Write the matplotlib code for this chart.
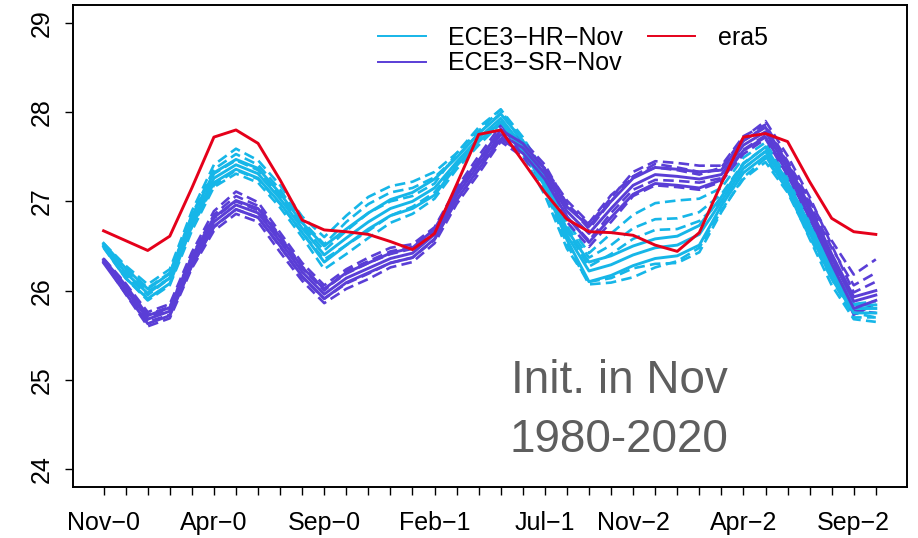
import numpy as np
import matplotlib
matplotlib.use('Agg')
import matplotlib.pyplot as plt
from matplotlib.lines import Line2D

plt.rcParams['font.family'] = ['Liberation Sans', 'DejaVu Sans']

# monthly SST climatology, lead months Nov-0 .. Oct-2
era5 = [26.67, 26.56, 26.45, 26.61, 27.15, 27.72, 27.80, 27.65, 27.24, 26.79, 26.68, 26.66,
        26.63, 26.55, 26.46, 26.64, 27.19, 27.75, 27.80, 27.45, 27.10, 26.80, 26.66, 26.65,
        26.62, 26.51, 26.44, 26.65, 27.20, 27.72, 27.76, 27.67, 27.22, 26.81, 26.66, 26.63]

# ECE3-HR-Nov : solid lines
hr_mean = [26.51, 26.20, 25.97, 26.14, 26.77, 27.26, 27.41, 27.31, 27.03, 26.70, 26.40, 26.59,
           26.77, 26.92, 27.00, 27.15, 27.44, 27.71, 27.93, 27.62, 27.22, 26.62, 26.22, 26.29,
           26.40, 26.48, 26.51, 26.63, 27.00, 27.37, 27.56, 27.18, 26.70, 26.21, 25.80, 25.80]
hr_s2 = [26.53, 26.25, 26.02, 26.19, 26.83, 27.32, 27.47, 27.37, 27.09, 26.76, 26.50, 26.69,
         26.87, 27.02, 27.10, 27.25, 27.49, 27.76, 27.98, 27.68, 27.28, 26.68, 26.32, 26.39,
         26.50, 26.58, 26.61, 26.73, 27.05, 27.42, 27.61, 27.22, 26.74, 26.25, 25.84, 25.84]
hr_s3 = [26.49, 26.14, 25.91, 26.08, 26.72, 27.21, 27.36, 27.26, 26.98, 26.65, 26.32, 26.51,
         26.69, 26.84, 26.92, 27.07, 27.40, 27.67, 27.89, 27.57, 27.17, 26.57, 26.10, 26.17,
         26.28, 26.36, 26.39, 26.51, 26.95, 27.32, 27.51, 27.13, 26.65, 26.16, 25.75, 25.75]
# ECE3-HR-Nov : dashed lines
hr_d1 = [26.53, 26.28, 26.07, 26.24, 26.89, 27.41, 27.59, 27.46, 27.18, 26.83, 26.60, 26.84,
         27.05, 27.17, 27.22, 27.33, 27.54, 27.79, 28.03, 27.72, 27.32, 26.77, 26.42, 26.64,
         26.85, 26.98, 27.01, 27.03, 27.15, 27.49, 27.66, 27.26, 26.78, 26.27, 25.85, 25.82]
hr_d2 = [26.51, 26.25, 26.03, 26.20, 26.85, 27.36, 27.53, 27.41, 27.13, 26.78, 26.52, 26.77,
         26.97, 27.10, 27.15, 27.27, 27.50, 27.76, 27.99, 27.70, 27.30, 26.72, 26.37, 26.51,
         26.70, 26.80, 26.81, 26.88, 27.08, 27.43, 27.61, 27.18, 26.65, 26.13, 25.70, 25.70]
hr_d3 = [26.48, 26.14, 25.89, 26.06, 26.67, 27.16, 27.31, 27.21, 26.93, 26.60, 26.24, 26.41,
         26.59, 26.76, 26.86, 27.03, 27.36, 27.63, 27.87, 27.52, 27.07, 26.47, 26.10, 26.14,
         26.25, 26.30, 26.31, 26.43, 26.88, 27.27, 27.48, 27.13, 26.58, 26.06, 25.68, 25.65]
hr_d4 = [26.52, 26.17, 25.95, 26.14, 26.80, 27.31, 27.46, 27.35, 27.06, 26.73, 26.45, 26.67,
         26.87, 27.00, 27.06, 27.20, 27.54, 27.83, 28.03, 27.64, 27.22, 26.67, 26.27, 26.41,
         26.58, 26.68, 26.69, 26.78, 27.00, 27.37, 27.56, 27.16, 26.68, 26.21, 25.85, 25.88]
hr_d5 = [26.50, 26.23, 25.99, 26.14, 26.71, 27.18, 27.35, 27.25, 26.97, 26.65, 26.35, 26.51,
         26.67, 26.84, 26.94, 27.10, 27.42, 27.69, 27.89, 27.54, 27.14, 26.52, 26.07, 26.09,
         26.15, 26.26, 26.33, 26.48, 26.90, 27.25, 27.44, 27.10, 26.60, 26.13, 25.75, 25.70]

# ECE3-SR-Nov : solid lines
sr_mean = [26.33, 26.02, 25.68, 25.77, 26.33, 26.77, 26.96, 26.87, 26.55, 26.21, 25.96, 26.14,
           26.25, 26.36, 26.42, 26.63, 27.07, 27.41, 27.75, 27.60, 27.31, 26.89, 26.64, 26.92,
           27.18, 27.30, 27.28, 27.25, 27.30, 27.63, 27.78, 27.37, 26.89, 26.36, 25.88, 25.95]
sr_s2 = [26.35, 26.06, 25.72, 25.81, 26.38, 26.82, 27.01, 26.92, 26.60, 26.26, 26.02, 26.20,
         26.31, 26.42, 26.48, 26.69, 27.12, 27.46, 27.80, 27.65, 27.36, 26.94, 26.72, 27.00,
         27.26, 27.38, 27.36, 27.33, 27.35, 27.68, 27.83, 27.42, 26.94, 26.41, 25.93, 26.00]
sr_s3 = [26.31, 25.97, 25.63, 25.72, 26.28, 26.72, 26.91, 26.82, 26.50, 26.16, 25.91, 26.09,
         26.20, 26.31, 26.37, 26.58, 27.02, 27.36, 27.70, 27.54, 27.25, 26.83, 26.54, 26.82,
         27.08, 27.20, 27.18, 27.15, 27.24, 27.57, 27.72, 27.32, 26.83, 26.30, 25.80, 25.89]
# ECE3-SR-Nov : dashed lines
sr_d1 = [26.36, 26.08, 25.76, 25.85, 26.43, 26.89, 27.11, 26.99, 26.65, 26.31, 26.06, 26.24,
         26.37, 26.48, 26.52, 26.71, 27.15, 27.51, 27.85, 27.66, 27.36, 26.97, 26.74, 27.04,
         27.33, 27.45, 27.43, 27.40, 27.40, 27.73, 27.86, 27.45, 27.01, 26.56, 26.18, 26.35]
sr_d2 = [26.33, 25.96, 25.60, 25.69, 26.25, 26.67, 26.86, 26.77, 26.43, 26.11, 25.86, 26.02,
         26.13, 26.26, 26.32, 26.53, 26.97, 27.31, 27.67, 27.50, 27.21, 26.77, 26.49, 26.77,
         27.06, 27.18, 27.16, 27.13, 27.22, 27.53, 27.70, 27.29, 26.81, 26.26, 25.73, 25.85]
sr_d3 = [26.34, 26.05, 25.73, 25.82, 26.39, 26.85, 27.06, 26.95, 26.61, 26.27, 26.02, 26.19,
         26.31, 26.41, 26.47, 26.67, 27.10, 27.46, 27.81, 27.68, 27.41, 26.97, 26.69, 27.00,
         27.28, 27.42, 27.38, 27.33, 27.35, 27.68, 27.84, 27.43, 26.97, 26.48, 26.06, 26.20]
sr_d4 = [26.32, 26.00, 25.65, 25.73, 26.28, 26.71, 26.91, 26.82, 26.49, 26.15, 25.91, 26.08,
         26.19, 26.31, 26.37, 26.57, 27.01, 27.36, 27.72, 27.57, 27.27, 26.83, 26.56, 26.87,
         27.13, 27.24, 27.23, 27.21, 27.26, 27.58, 27.74, 27.34, 26.85, 26.32, 25.78, 25.75]
sr_d5 = [26.35, 26.07, 25.70, 25.80, 26.36, 26.81, 27.00, 26.90, 26.59, 26.25, 26.00, 26.22,
         26.33, 26.44, 26.49, 26.69, 27.12, 27.43, 27.79, 27.64, 27.37, 27.01, 26.76, 27.07,
         27.28, 27.38, 27.35, 27.30, 27.38, 27.71, 27.90, 27.51, 27.05, 26.51, 25.98, 26.10]

months = ['Nov', 'Dec', 'Jan', 'Feb', 'Mar', 'Apr', 'May', 'Jun', 'Jul', 'Aug', 'Sep', 'Oct']
shown = [0, 5, 10, 15, 20, 24, 29, 34]   # labels R managed to fit
yticks = [24, 25, 26, 27, 28, 29]

c_hr = '#16B6E8'
c_sr = '#5A3ED6'
c_era = '#E5001A'

fig = plt.figure(figsize=(9.18, 5.38), dpi=100)
ax = fig.add_axes([0.0792, 0.0948, 0.9085, 0.8959])
x = np.arange(len(era5))
dash = (0, (4, 2))

for m in [hr_d1, hr_d2, hr_d3, hr_d4, hr_d5]:
    ax.plot(x, m, color=c_hr, lw=1.9, ls=dash)
for m in [sr_d1, sr_d2, sr_d3, sr_d4, sr_d5]:
    ax.plot(x, m, color=c_sr, lw=1.9, ls=dash)
for m in [hr_s2, hr_s3, hr_mean]:
    ax.plot(x, m, color=c_hr, lw=2.1)
for m in [sr_s2, sr_s3, sr_mean]:
    ax.plot(x, m, color=c_sr, lw=2.1)
ax.plot(x, era5, color=c_era, lw=2.1)

ax.set_xlim(-1.4, 36.4)
ax.set_ylim(23.8, 29.2)

labels = [months[i % 12] + '\u2212' + str(i // 12) for i in x]
ax.set_xticks(x)
ax.set_xticklabels([labels[i] if i in shown else '' for i in x])
ax.set_yticks(yticks)
ax.set_yticklabels([str(v) for v in yticks], rotation=90, va='center')
ax.tick_params(axis='both', length=6, width=1.0, labelsize=18, direction='out')
ax.tick_params(axis='x', pad=11)
ax.tick_params(axis='y', pad=8)
for s in ax.spines.values():
    s.set_linewidth(1.4)

handles = [Line2D([], [], color=c_hr, lw=1.4),
           Line2D([], [], color=c_sr, lw=1.4),
           Line2D([], [], color=c_era, lw=1.4)]
fig.legend(handles, ['ECE3\u2212HR\u2212Nov', 'ECE3\u2212SR\u2212Nov', 'era5'],
           ncol=2, frameon=False, fontsize=18, loc='upper left',
           bbox_to_anchor=(378 / 918, 1 - 26 / 538), borderpad=0, borderaxespad=0,
           handlelength=1.9, handletextpad=0.9, columnspacing=1.0, labelspacing=0.05)

fig.text(619 / 918, 1 - 393 / 538, 'Init. in Nov', fontsize=33, color='#5E5E5E',
         ha='center', va='baseline')
fig.text(619 / 918, 1 - 452 / 538, '1980-2020', fontsize=33, color='#5E5E5E',
         ha='center', va='baseline')

fig.savefig('out.png', dpi=100)
